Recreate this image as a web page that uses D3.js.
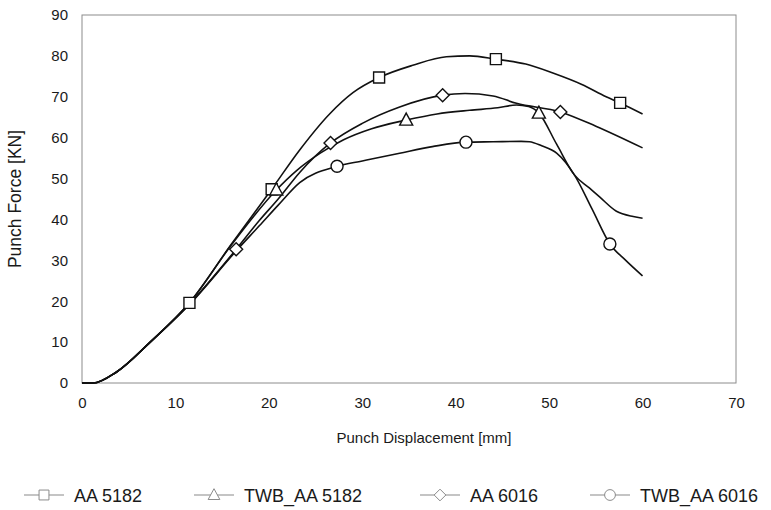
<!DOCTYPE html>
<html>
<head>
<meta charset="utf-8">
<title>Punch Force vs Punch Displacement</title>
<script src="https://cdn.jsdelivr.net/npm/d3@7"></script>
<style>
  body { margin: 0; background: #fff; }
  text { font-family: "Liberation Sans", Arial, sans-serif; fill: #1a1a1a; }
</style>
</head>
<body>
<div id="chart"></div>
<script>
// series names (legend order)
var seriesNames = ["AA 5182", "TWB_AA 5182", "AA 6016", "TWB_AA 6016"];
var seriesMarkers = ["square", "triangle", "diamond", "circle"];

// curve points [mm, kN]
var aa5182X = [0, 1.2, 3.7, 7.3, 11.5, 16, 20.3, 23.3, 26.5, 29, 31.8, 35.4, 39, 41.5, 44.3, 47.5, 50.4, 53.5, 56.1, 57.6, 60];
var aa5182Y = [0, 0, 2.7, 10, 19.6, 34, 47.4, 57, 65.8, 71, 74.7, 77.7, 79.8, 80, 79.2, 78, 75.8, 73, 70, 68.5, 65.8];

var twb5182X = [0, 1.2, 3.7, 7.3, 11.5, 16, 20.8, 23, 25.5, 28, 31, 34.7, 38, 41.5, 44.5, 46.5, 47.8, 48.9, 50.8, 52.7, 54.3, 55.4, 57.2, 59, 60];
var twb5182Y = [0, 0, 2.7, 10, 19.6, 33.8, 47.2, 52, 56.2, 59.5, 62.2, 64.3, 65.8, 66.7, 67.3, 68, 67.6, 66, 58.4, 50.9, 47.7, 45.5, 42, 40.7, 40.3];

var aa6016X = [0, 1.2, 3.7, 7.3, 11.5, 16.5, 19, 21, 23.3, 26.6, 30, 34, 38.6, 41, 44, 46.5, 51.2, 55, 60];
var aa6016Y = [0, 0, 2.7, 10, 19.3, 32.7, 39.8, 45, 51.5, 58.7, 63.5, 67.5, 70.4, 70.8, 70.2, 68.4, 66.3, 62.8, 57.5];

var twb6016X = [0, 1.2, 3.7, 7.3, 11.5, 16.5, 19, 21, 23.3, 27.3, 30, 34, 37.5, 41.1, 44, 47, 47.9, 49.2, 50.8, 52.7, 54.6, 56.5, 58.2, 60];
var twb6016Y = [0, 0, 2.7, 10, 19.2, 32.3, 38.5, 43.5, 49, 53, 54.3, 56.2, 57.8, 58.9, 59, 59.1, 59, 58, 56.2, 50.9, 42.5, 34, 30, 26.2];

// marker positions on each curve
var aa5182MarkX = [11.5, 20.3, 31.8, 44.3, 57.6];
var aa5182MarkY = [19.6, 47.4, 74.7, 79.2, 68.5];
var twb5182MarkX = [20.8, 34.7, 48.9];
var twb5182MarkY = [47.2, 64.3, 66];
var aa6016MarkX = [16.5, 26.6, 38.6, 51.2];
var aa6016MarkY = [32.7, 58.7, 70.4, 66.3];
var twb6016MarkX = [27.3, 41.1, 56.5];
var twb6016MarkY = [53, 58.9, 34];

var xTicks = [0, 10, 20, 30, 40, 50, 60, 70];
var yTicks = [0, 10, 20, 30, 40, 50, 60, 70, 80, 90];

var width = 771, height = 510;
var svg = d3.select("#chart").append("svg").attr("width", width).attr("height", height);

var x = d3.scaleLinear().domain([0, 70]).range([82, 736]);
var y = d3.scaleLinear().domain([0, 90]).range([383, 15]);

function zip(xs, ys) { return xs.map(function (v, i) { return [v, ys[i]]; }); }

var series = [
  { name: seriesNames[0], marker: seriesMarkers[0], pts: zip(aa5182X, aa5182Y), marks: zip(aa5182MarkX, aa5182MarkY) },
  { name: seriesNames[1], marker: seriesMarkers[1], pts: zip(twb5182X, twb5182Y), marks: zip(twb5182MarkX, twb5182MarkY) },
  { name: seriesNames[2], marker: seriesMarkers[2], pts: zip(aa6016X, aa6016Y), marks: zip(aa6016MarkX, aa6016MarkY) },
  { name: seriesNames[3], marker: seriesMarkers[3], pts: zip(twb6016X, twb6016Y), marks: zip(twb6016MarkX, twb6016MarkY) }
];

// marker shapes centred on 0,0
function markerPath(type) {
  var p = d3.path();
  if (type === "square") { p.rect(-5.5, -5.5, 11, 11); }
  else if (type === "triangle") { p.moveTo(0, -7); p.lineTo(6.5, 5); p.lineTo(-6.5, 5); p.closePath(); }
  else if (type === "diamond") { p.moveTo(0, -6.5); p.lineTo(6.5, 0); p.lineTo(0, 6.5); p.lineTo(-6.5, 0); p.closePath(); }
  else { p.arc(0, 0, 6, 0, 2 * Math.PI); }
  return p.toString();
}

// frame
svg.append("rect")
  .attr("x", x(0)).attr("y", y(90))
  .attr("width", x(70) - x(0)).attr("height", y(0) - y(90))
  .attr("fill", "none").attr("stroke", "#8c8c8c").attr("stroke-width", 1);

// axes (labels only, no tick marks)
var xAxis = d3.axisBottom(x).tickValues(xTicks).tickSize(0).tickPadding(14);
var gx = svg.append("g").attr("transform", "translate(0," + y(0) + ")").call(xAxis);
gx.select(".domain").remove();
gx.selectAll("text").style("font-size", "15px").attr("fill", "#1a1a1a");

var yAxis = d3.axisLeft(y).tickValues(yTicks).tickSize(0).tickPadding(14);
var gy = svg.append("g").attr("transform", "translate(" + x(0) + ",0)").call(yAxis);
gy.select(".domain").remove();
gy.selectAll("text").style("font-size", "15px").attr("fill", "#1a1a1a");

svg.append("text")
  .attr("x", (x(0) + x(70)) / 2 + 15).attr("y", 443)
  .attr("text-anchor", "middle").style("font-size", "15px")
  .text("Punch Displacement [mm]");

svg.append("text")
  .attr("transform", "translate(21," + y(45) + ") rotate(-90)")
  .attr("text-anchor", "middle").style("font-size", "17.5px")
  .text("Punch Force [KN]");

// curves
var line = d3.line()
  .x(function (d) { return x(d[0]); })
  .y(function (d) { return y(d[1]); })
  .curve(d3.curveMonotoneX);

svg.append("g").selectAll("path")
  .data(series)
  .join("path")
  .attr("d", function (d) { return line(d.pts); })
  .attr("fill", "none")
  .attr("stroke", "#111")
  .attr("stroke-width", 1.6);

// markers
series.forEach(function (s) {
  svg.append("g").selectAll("path")
    .data(s.marks)
    .join("path")
    .attr("transform", function (d) { return "translate(" + x(d[0]) + "," + y(d[1]) + ")"; })
    .attr("d", markerPath(s.marker))
    .attr("fill", "#fff")
    .attr("stroke", "#111")
    .attr("stroke-width", 1.4);
});

// legend
var legendX = [22, 192, 418, 588];
var legend = svg.append("g").selectAll("g")
  .data(series)
  .join("g")
  .attr("transform", function (d, i) { return "translate(" + legendX[i] + ",495)"; });

legend.append("line")
  .attr("x1", 2).attr("x2", 42)
  .attr("stroke", "#8a8a8a").attr("stroke-width", 1.1);
legend.append("path")
  .attr("transform", "translate(22,0) scale(0.9)")
  .attr("d", function (d) { return markerPath(d.marker); })
  .attr("fill", "#fff").attr("stroke", "#8a8a8a").attr("stroke-width", 1.1);
legend.append("text")
  .attr("x", 52).attr("y", 6.5)
  .style("font-size", "18px")
  .text(function (d) { return d.name; });
</script>
</body>
</html>
